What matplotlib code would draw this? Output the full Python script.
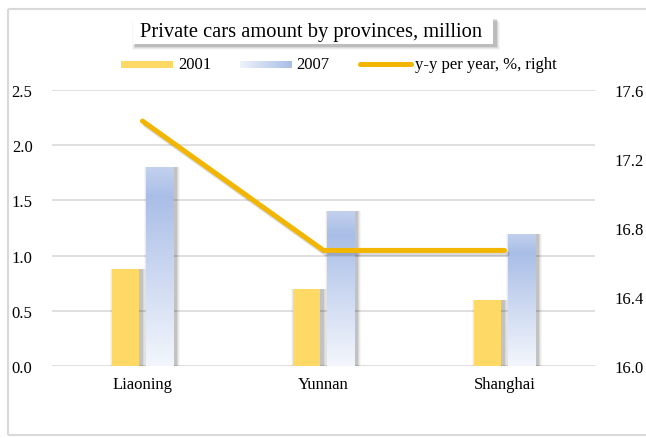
import matplotlib.pyplot as plt
import matplotlib.patheffects as pe
from matplotlib.patches import Rectangle
from matplotlib.colors import LinearSegmentedColormap
import numpy as np

plt.rcParams['font.family'] = ['Liberation Serif', 'DejaVu Serif']

# data
provinces = ["Liaoning", "Yunnan", "Shanghai"]
cars_2001 = [0.88, 0.70, 0.60]
cars_2007 = [1.80, 1.40, 1.20]
yy_growth = [17.42, 16.67, 16.67]

yellow = "#FFD966"
gold = "#F2B600"
grid_c = "#D9D9D9"
blue_cmap = LinearSegmentedColormap.from_list(
    "bl", [(0.0, "#F3F6FC"), (0.5, "#C9D6F0"), (0.85, "#A9BEE7"), (1.0, "#C3D1EE")])

W, H = 646, 439
fig = plt.figure(figsize=(W / 100, H / 100), dpi=100)

def fx(px):
    return px / W

def fy(py):
    return 1 - py / H

# outer frame (left, top, bottom only)
for xs, ys in [([fx(646), fx(8)], [fy(10), fy(10)]),
               ([fx(8), fx(8)], [fy(10), fy(436)]),
               ([fx(8), fx(646)], [fy(436), fy(436)])]:
    fig.add_artist(plt.Line2D(xs, ys, transform=fig.transFigure, color=grid_c, lw=1.5,
                              solid_capstyle="butt"))

ax = fig.add_axes([fx(52), fy(367), fx(595) - fx(52), fy(91) - fy(367)])
ax2 = ax.twinx()
ax.set_zorder(2)
ax2.set_zorder(3)
ax.patch.set_visible(False)
ax2.patch.set_visible(False)

x = np.arange(len(provinces))
bw = 0.15
off = 0.093

def shadow(a, xs, hs):
    for k, a_ in enumerate([0.10, 0.07, 0.05, 0.03]):
        d = 0.006 * (k + 1)
        a.bar(xs + 0.014, np.array(hs), width=bw + 2 * d, color="black",
              alpha=a_, zorder=1, linewidth=0)

shadow(ax, x - off, cars_2001)
shadow(ax, x + off, cars_2007)
ax.bar(x - off, cars_2001, width=bw, color=yellow, zorder=3, linewidth=0)
bars = ax.bar(x + off, cars_2007, width=bw, color="none", zorder=3, linewidth=0)
grad = np.linspace(0, 1, 256).reshape(-1, 1)
for b in bars:
    x0, w, h = b.get_x(), b.get_width(), b.get_height()
    im = ax.imshow(grad, cmap=blue_cmap, origin="lower", aspect="auto",
                   extent=(x0, x0 + w, 0, h), zorder=3)
    im.set_clip_path(b)

ax.set_xlim(-0.5, 2.5)
ax.set_ylim(0, 2.5)
ax.set_yticks(np.arange(0, 2.51, 0.5))
ax.set_yticklabels([f"{v:.1f}" for v in np.arange(0, 2.51, 0.5)])
ax.set_xticks(x)
ax.set_xticklabels(provinces)
ax.grid(axis="y", color=grid_c, lw=1.2, zorder=0)
ax.set_axisbelow(True)
for s in ax.spines.values():
    s.set_visible(False)
for s in ax2.spines.values():
    s.set_visible(False)
ax.tick_params(axis="y", length=0, pad=14, labelsize=12)
ax.tick_params(axis="x", length=0, pad=7, labelsize=12)

ax2.plot(x, yy_growth, color=gold, lw=3.6, solid_capstyle="round",
         path_effects=[pe.SimpleLineShadow(offset=(2, -2.5), shadow_color="black", alpha=0.15),
                       pe.Normal()])
ax2.set_ylim(16.0, 17.6)
ax2.set_yticks(np.arange(16.0, 17.61, 0.4))
ax2.set_yticklabels([f"{v:.1f}" for v in np.arange(16.0, 17.61, 0.4)])
ax2.tick_params(axis="y", length=0, pad=14, labelsize=12)

# title box with soft shadow
for k, a_ in enumerate([0.12, 0.08, 0.05, 0.03]):
    d = k + 1
    fig.add_artist(Rectangle((fx(133 + 3 - d), fy(45 + 2 + d)), fx(360 + 2 * d),
                             fy(17) - fy(45),
                             transform=fig.transFigure, color="black", alpha=a_, lw=0))
fig.add_artist(Rectangle((fx(133), fy(45)), fx(360), fy(17) - fy(45),
                         transform=fig.transFigure, facecolor="white", lw=0))
fig.text(fx(311), fy(32), "Private cars amount by provinces, million",
         ha="center", va="center", fontsize=14.8)

# legend
fig.add_artist(Rectangle((fx(121), fy(69)), fx(52), fy(62) - fy(69),
                         transform=fig.transFigure, color=yellow, lw=0))
fig.text(fx(178), fy(65), "2001", ha="left", va="center", fontsize=12)
lax = fig.add_axes([fx(240), fy(69), fx(52), fy(62) - fy(69)])
lax.imshow(np.linspace(0, 1, 64).reshape(1, -1),
           cmap=LinearSegmentedColormap.from_list("lg", ["#EEF2FA", "#A9BEE7"]),
           aspect="auto")
lax.axis("off")
fig.text(fx(296), fy(65), "2007", ha="left", va="center", fontsize=12)
fig.add_artist(plt.Line2D([fx(360), fx(411)], [fy(65), fy(65)], transform=fig.transFigure,
                          color=gold, lw=3.6, solid_capstyle="round"))
fig.text(fx(415), fy(65), "y-y per year, %, right", ha="left", va="center", fontsize=12)

fig.savefig("out.png", dpi=100)
